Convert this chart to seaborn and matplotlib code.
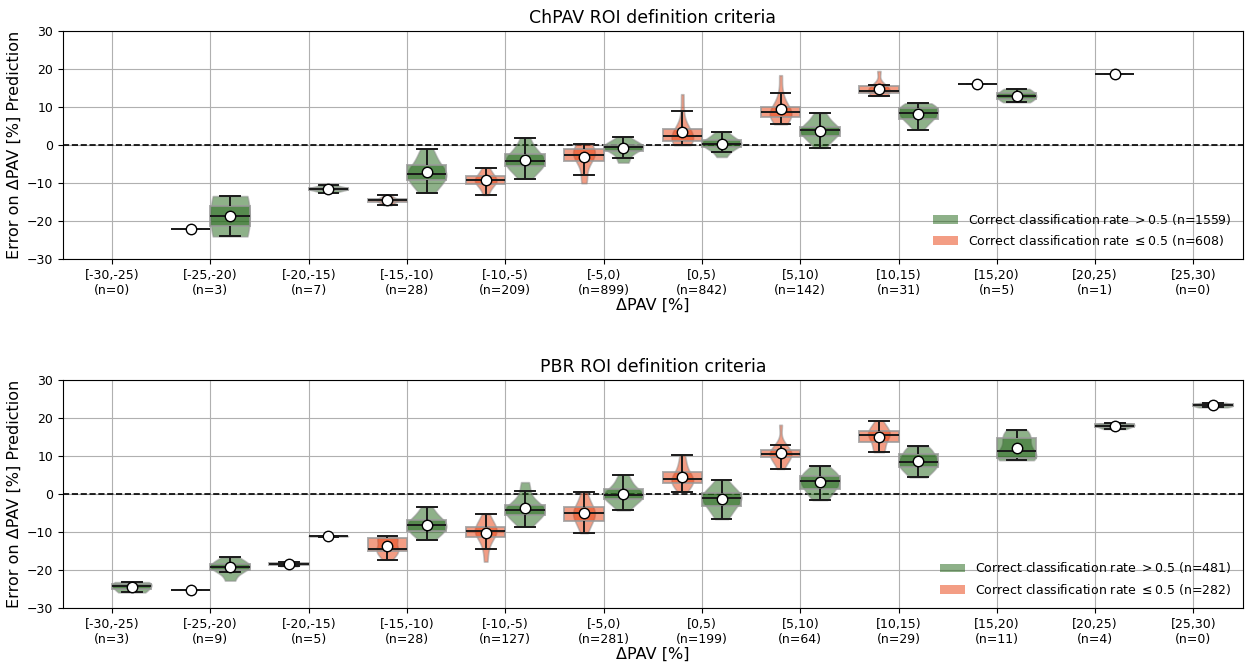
import numpy as np
import pandas as pd
import matplotlib
matplotlib.use("Agg")
import matplotlib.pyplot as plt
import seaborn as sns
from matplotlib.patches import Patch

bins = ["[-30,-25)", "[-25,-20)", "[-20,-15)", "[-15,-10)", "[-10,-5)", "[-5,0)",
        "[0,5)", "[5,10)", "[10,15)", "[15,20)", "[20,25)", "[25,30)"]

chpav_n = [0, 3, 7, 28, 209, 899, 842, 142, 31, 5, 1, 0]
pbr_n = [3, 9, 5, 28, 127, 281, 199, 64, 29, 11, 4, 0]

# Correct classification rate > 0.5
chpav_high = [
    [],
    [-13.4, -24.0],
    [-10.6, -11.1, -11.3, -11.5, -11.7, -11.9, -12.5],
    [-12.5, -11.0, -9.6, -8.6, -8.0, -7.6, -7.1, -6.0, -4.6, -3.0, -0.9],
    [-8.8, -7.0, -5.9, -5.3, -4.7, -4.2, -3.6, -2.6, -2.0, -0.5, 2.0],
    [-4.6, -3.5, -1.7, -1.3, -0.8, -0.5, -0.3, 0.0, 0.2, 1.0, 2.2],
    [-3.1, -1.7, -0.6, -0.2, 0.1, 0.4, 0.7, 1.1, 1.5, 2.5, 3.5],
    [-0.7, 0.8, 1.7, 2.3, 2.9, 3.5, 3.9, 4.3, 4.6, 4.9, 6.0, 7.2, 8.4],
    [4.1, 5.5, 6.4, 6.9, 7.5, 8.0, 8.4, 8.9, 9.4, 9.8, 10.3, 10.7, 11.0],
    [11.3, 12.6, 13.4, 14.8],
    [18.6],
    [],
]
# Correct classification rate <= 0.5
chpav_low = [
    [],
    [-22.0],
    [],
    [-13.2, -14.0, -14.3, -14.5, -14.7, -15.0, -15.8],
    [-13.1, -11.5, -10.5, -9.9, -9.6, -9.3, -9.0, -8.5, -7.9, -7.0, -5.9],
    [-10.0, -7.8, -4.6, -3.8, -3.0, -2.6, -2.1, -1.4, -0.6, 0.1, 0.3],
    [0.0, 0.3, 0.6, 0.9, 1.1, 1.6, 2.0, 2.4, 2.8, 3.3, 3.9, 4.5, 5.5, 9.0, 13.4],
    [5.5, 6.3, 7.0, 7.4, 7.9, 8.3, 8.6, 9.0, 9.5, 10.0, 11.5, 13.8, 18.4],
    [13.0, 13.4, 13.7, 13.9, 14.1, 14.6, 15.2, 15.6, 15.8, 19.5],
    [16.2],
    [],
    [],
]

pbr_high = [
    [-23.2, -24.2, -25.9],
    [-16.7, -17.8, -18.5, -18.9, -19.3, -19.8, -20.6, -22.8],
    [-11.0, -11.2],
    [-12.0, -10.8, -10.0, -9.4, -8.8, -8.2, -7.7, -7.1, -6.5, -5.2, -3.5],
    [-8.6, -7.2, -6.2, -5.5, -5.0, -4.6, -4.2, -3.8, -3.3, -2.9, -1.8, 0.9, 3.1],
    [-4.3, -3.0, -2.0, -1.3, -0.9, -0.6, -0.3, 0.1, 0.6, 1.3, 2.2, 3.6, 5.1],
    [-6.6, -5.2, -4.0, -3.1, -2.4, -1.7, -1.1, -0.6, -0.2, 0.2, 1.0, 2.2, 3.7],
    [-1.6, -0.4, 0.6, 1.3, 2.0, 2.8, 3.4, 3.9, 4.4, 4.8, 5.5, 6.4, 7.3],
    [4.4, 5.3, 6.2, 7.0, 7.6, 8.0, 8.3, 8.8, 9.6, 10.5, 11.2, 11.8, 12.5],
    [8.9, 9.1, 9.3, 9.5, 10.8, 11.4, 12.5, 14.4, 15.0, 16.0, 16.8],
    [17.1, 17.8, 18.2, 18.6],
    [22.8, 23.2, 23.5, 24.0],
]
pbr_low = [
    [],
    [-25.3],
    [-17.8, -18.4, -19.0],
    [-17.3, -16.2, -15.3, -14.9, -14.6, -14.4, -13.0, -11.8, -11.5, -11.3, -11.1],
    [-17.8, -14.5, -12.5, -11.2, -10.6, -10.1, -9.7, -9.4, -9.1, -8.8, -7.8, -6.5, -5.3],
    [-10.3, -8.8, -7.6, -7.0, -6.2, -5.6, -5.1, -4.6, -4.1, -3.5, -2.6, -1.2, 0.4],
    [0.6, 1.6, 2.3, 2.9, 3.3, 3.6, 3.9, 4.3, 5.0, 5.9, 7.0, 8.6, 10.3],
    [6.6, 7.8, 8.8, 9.6, 9.9, 10.2, 10.5, 10.8, 11.2, 11.7, 12.2, 13.0, 18.2],
    [11.0, 11.4, 12.0, 13.6, 14.4, 15.0, 15.6, 15.9, 16.2, 16.7, 17.2, 18.0, 19.3],
    [],
    [],
    [],
]

panels = [
    ("ChPAV ROI definition criteria", chpav_high, chpav_low, chpav_n, 1559, 608),
    ("PBR ROI definition criteria", pbr_high, pbr_low, pbr_n, 481, 282),
]

GREEN = "#1f6414"
ORANGE = "#e93c0a"
ALPHA = 0.5
HUE_ORDER = ["low", "high"]
PAL = {"low": ORANGE, "high": GREEN}


def long_form(high, low):
    rows = []
    for b, vals in zip(bins, high):
        rows += [(b, "high", v) for v in vals]
    for b, vals in zip(bins, low):
        rows += [(b, "low", v) for v in vals]
    return pd.DataFrame(rows, columns=["bin", "group", "value"])


fig, axes = plt.subplots(2, 1, figsize=(12.59, 6.63), dpi=100)
fig.subplots_adjust(left=0.050, right=0.987, top=0.953, bottom=0.083, hspace=0.53)

for ax, (title, high, low, counts, n_high, n_low) in zip(axes, panels):
    df = long_form(high, low)
    sizes = df.groupby(["bin", "group"])["value"].transform("size")
    vdf = df[sizes >= 2]

    ax.axhline(0, color="black", ls="--", lw=1.2, zorder=0.9)

    for grp, gap in [("low", 0.45), ("high", 0.0)]:
        sub = vdf[vdf["group"] == grp]
        sns.violinplot(data=sub, x="bin", y="value", hue="group", order=bins,
                       hue_order=HUE_ORDER, palette=PAL, dodge=True, width=0.8,
                       gap=gap, cut=0, inner=None, density_norm="width",
                       saturation=1, linewidth=1.2, linecolor=(0.55, 0.55, 0.55),
                       alpha=ALPHA, legend=False, ax=ax)

    n_before = len(ax.patches)
    sns.boxplot(data=df, x="bin", y="value", hue="group", order=bins,
                hue_order=HUE_ORDER, palette=PAL, dodge=True, width=0.8,
                saturation=1, whis=1.5, showfliers=False, showmeans=True,
                meanprops=dict(marker="o", markerfacecolor="white",
                               markeredgecolor="black", markersize=7.5,
                               markeredgewidth=1.0),
                linecolor="#1a1a1a", linewidth=1.4, legend=False, ax=ax)
    for p in ax.patches[n_before:]:
        fc = p.get_facecolor()
        p.set_facecolor((fc[0], fc[1], fc[2], ALPHA))
        p.set_edgecolor((0.6, 0.6, 0.6, 0.8))

    ax.set_xlim(-0.5, 11.5)
    ax.set_ylim(-30, 30)
    ax.set_yticks([-30, -20, -10, 0, 10, 20, 30])
    ax.set_xticks(range(len(bins)))
    ax.set_xticklabels([f"{b}\n(n={n})" for b, n in zip(bins, counts)], fontsize=9)
    ax.tick_params(axis="y", labelsize=9)
    ax.grid(True, color="#b0b0b0", linewidth=0.8)
    ax.set_axisbelow(True)
    ax.set_xlabel("ΔPAV [%]", fontsize=11.5, labelpad=1)
    ax.set_ylabel("Error on ΔPAV [%] Prediction", fontsize=11.5)
    ax.set_title(title, fontsize=12.5)

    handles = [Patch(facecolor=GREEN, alpha=ALPHA, edgecolor="none"),
               Patch(facecolor=ORANGE, alpha=ALPHA, edgecolor="none")]
    labels = [rf"Correct classification rate $> 0.5$ (n={n_high})",
              rf"Correct classification rate $\leq 0.5$ (n={n_low})"]
    ax.legend(handles, labels, loc="lower right", frameon=False, fontsize=9)

fig.savefig("out.png", dpi=100)
